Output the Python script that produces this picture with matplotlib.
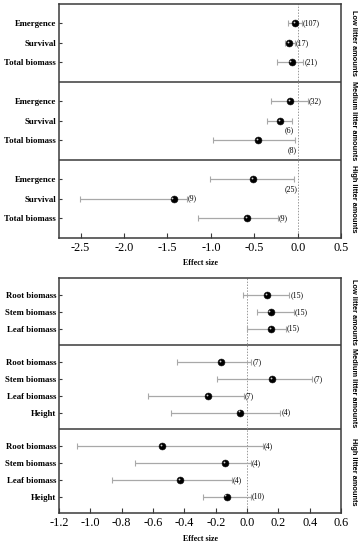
import matplotlib
matplotlib.use("Agg")
import matplotlib.pyplot as plt
import matplotlib.transforms as mtransforms
import numpy as np

# ---- top chart: emergence / survival / total biomass ----
top_vars = ["Emergence", "Survival", "Total biomass"]
top_panels = ["Low litter amounts", "Medium litter amounts", "High litter amounts"]
top_mean = [[-0.03, -0.10, -0.07], [-0.09, -0.20, -0.46], [-0.51, -1.43, -0.58]]
top_lo = [[-0.11, -0.146, -0.24], [-0.31, -0.35, -0.98], [-1.01, -2.51, -1.15]]
top_hi = [[0.046, -0.03, 0.065], [0.12, -0.06, -0.03], [-0.04, -1.28, -0.23]]
top_n = [["(107)", "(17)", "(21)"], ["(32)", "(6)", "(8)"], ["(25)", "(9)", "(9)"]]
top_below = [[False, False, False], [False, True, True], [True, False, False]]
top_ticks = [-2.5, -2.0, -1.5, -1.0, -0.5, 0.0, 0.5]

# ---- bottom chart: root / stem / leaf biomass, height ----
bot_vars = [["Root biomass", "Stem biomass", "Leaf biomass"],
            ["Root biomass", "Stem biomass", "Leaf biomass", "Height"],
            ["Root biomass", "Stem biomass", "Leaf biomass", "Height"]]
bot_panels = ["Low litter amounts", "Medium litter amounts", "High litter amounts"]
bot_mean = [[0.128, 0.15, 0.156], [-0.163, 0.162, -0.25, -0.047], [-0.54, -0.138, -0.43, -0.131]]
bot_lo = [[-0.026, 0.064, 0.0], [-0.45, -0.193, -0.634, -0.485], [-1.085, -0.715, -0.859, -0.283]]
bot_hi = [[0.27, 0.30, 0.247], [0.028, 0.417, -0.02, 0.213], [0.102, 0.024, -0.096, 0.024]]
bot_n = [["(15)", "(15)", "(15)"], ["(7)", "(7)", "(7)", "(4)"], ["(4)", "(4)", "(4)", "(10)"]]
bot_ticks = [-1.2, -1.0, -0.8, -0.6, -0.4, -0.2, 0.0, 0.2, 0.4, 0.6]

serif = "Liberation Serif"
sans = "Liberation Sans"
spine_col = "#3a3a3a"
err_col = "#a8a8a8"


def draw_forest(ax, names, means, los, his, ns, panels, xlim, ticks, below=None):
    ypos = []
    labels = []
    bounds = []
    start = 0
    span = xlim[1] - xlim[0]
    for p in range(len(names)):
        k = len(names[p])
        for i in range(k):
            y = start + 1 + i
            m, lo, hi = means[p][i], los[p][i], his[p][i]
            ax.errorbar([m], [y], xerr=[[m - lo], [hi - m]], fmt="none",
                        ecolor=err_col, elinewidth=0.9, capsize=2.0, capthick=0.8,
                        zorder=2)
            ax.plot([m], [y], "o", ms=5.0, mfc="black", mec="#111111",
                    mew=0.4, zorder=3)
            hl = mtransforms.offset_copy(ax.transData, fig=ax.figure,
                                         x=-0.8, y=0.8, units="points")
            ax.plot([m], [y], "o", ms=1.3, mfc="#d0d0d0", mec="none",
                    transform=hl, zorder=4)
            if below is not None and below[p][i]:
                ax.text(hi - 0.012 * span, y + 0.3, ns[p][i],
                        ha="center", va="top", fontsize=5.7, family=serif)
            else:
                ax.text(hi + 0.003 * span, y, ns[p][i],
                        ha="left", va="center", fontsize=5.7, family=serif)
            ypos.append(y)
            labels.append(names[p][i])
        end = start + k + 1
        bounds.append((start, end))
        if p < len(names) - 1:
            ax.axhline(end, color=spine_col, lw=1.1, zorder=1)
        start = end

    ax.axvline(0, color="#999999", lw=0.7, ls=(0, (1.5, 1.5)), zorder=1)
    ax.set_xlim(*xlim)
    ax.set_ylim(start, 0)
    ax.set_yticks(ypos)
    ax.set_yticklabels(labels, fontsize=6.3, family=serif, fontweight="bold")
    ax.set_xticks(ticks)
    ax.set_xticklabels(["%.1f" % t for t in ticks], fontsize=8.8, family=serif)
    ax.tick_params(axis="x", direction="in", length=3.5, width=0.8,
                   color=spine_col, pad=3)
    ax.tick_params(axis="y", direction="in", length=2.5, width=0.8,
                   color=spine_col, pad=2)
    for s in ax.spines.values():
        s.set_color(spine_col)
        s.set_linewidth(1.1)
    ax.set_xlabel("Effect size", fontsize=5.8, family=serif, fontweight="bold",
                  labelpad=4)
    for (a, b), title in zip(bounds, panels):
        ax.text(1.043, (a + b) / 2.0, title, rotation=-90, ha="center",
                va="center", fontsize=5.3, family=sans, fontweight="bold",
                transform=mtransforms.blended_transform_factory(ax.transAxes,
                                                                ax.transData))


fig = plt.figure(figsize=(3.64, 5.5), dpi=100)
ax1 = fig.add_axes([0.162, 0.568, 0.775, 0.425])
draw_forest(ax1, [top_vars] * 3, top_mean, top_lo, top_hi, top_n, top_panels,
            (-2.75, 0.5), top_ticks, below=top_below)

ax2 = fig.add_axes([0.162, 0.0667, 0.775, 0.4273])
draw_forest(ax2, bot_vars, bot_mean, bot_lo, bot_hi, bot_n, bot_panels,
            (-1.2, 0.6), bot_ticks)

fig.savefig("out.png", dpi=100)
